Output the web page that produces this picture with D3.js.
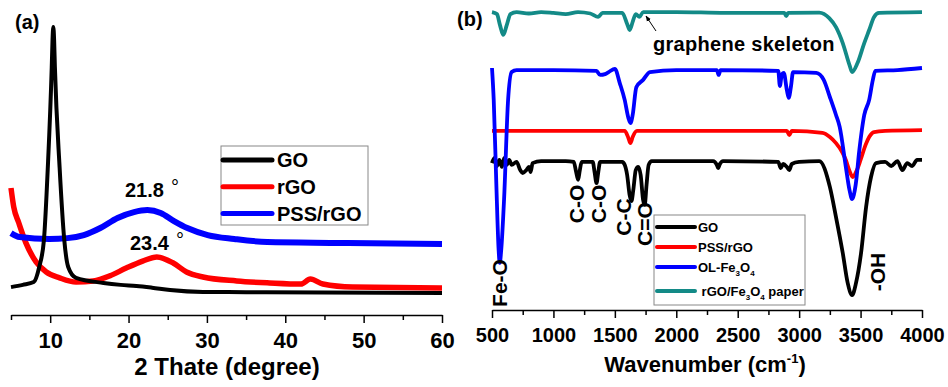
<!DOCTYPE html>
<html>
<head>
<meta charset="utf-8">
<script src="https://cdn.jsdelivr.net/npm/d3@7"></script>
<style>
  body { margin: 0; background: #fff; }
  svg { display: block; font-family: "Liberation Sans", Arial, sans-serif; font-weight: bold; }
</style>
</head>
<body>
<svg id="chart" width="948" height="387"></svg>
<script>
// ---- panel (a): XRD, [2theta, intensity a.u.] ----
const xrdGO = [[5,4.6],[6.5,5.4],[7.9,6.4],[8.6,11.8],[9.2,21.4],[9.7,47.5],[10.2,83.2],[10.3,92.9],[10.4,97.5],[10.5,92.9],[10.6,83.2],[11.2,47.5],[11.8,21.4],[12.3,11.8],[13.3,7.9],[16.8,6.1],[19,5.4],[21,5.0],[23,4.4],[25.3,3.6],[29.5,2.9],[35,2.8],[45,2.7],[60,2.5]];
const xrdRGO = [[5,40],[5.35,33.2],[6,27.5],[6.9,20.4],[8.2,13.6],[9.5,10],[11.2,7.9],[13.3,6.4],[15.5,6.8],[17.6,8.6],[19.7,11.4],[21.8,13.9],[23.6,15.4],[25.7,13.2],[27.4,10],[29.5,8.2],[33.8,6.8],[38,6.1],[42,5.7],[43.2,7.5],[44.8,5.7],[48.6,4.6],[60,4.3]];
const xrdPSS = [[5,23.9],[6.1,22.5],[9.9,21.8],[12.2,22.1],[14.3,23.2],[16.4,25.7],[18.6,29.3],[20.7,31.4],[22.4,32.1],[24.1,31.1],[25.8,28.2],[27.5,25.7],[30.1,23.2],[33.5,21.8],[37.7,20.7],[46.2,20.4],[60,20]];
const xrdTicks = [10, 20, 30, 40, 50, 60];
const xrdMinor = [5, 15, 25, 35, 45, 55];
const xrdNames = ["GO", "rGO", "PSS/rGO"];

// ---- panel (b): FTIR, [wavenumber, transmittance a.u.] ----
const ftirGO = [[500,47.2],[520,49.0],[540,46.2],[560,48.3],[580,45.9],[600,49.0],[620,46.6],[640,48.3],[660,46.6],[700,47.6],[730,44.8],[750,43.8],[780,44.8],[800,45.9],[815,44.1],[830,47.2],[900,47.9],[1100,47.9],[1165,47.6],[1185,44.1],[1201,41.4],[1215,44.8],[1230,47.6],[1320,47.6],[1335,44.1],[1351,40.3],[1365,44.1],[1380,47.6],[1560,47.6],[1580,46.6],[1600,43.1],[1620,36.2],[1635,34.1],[1650,37.9],[1670,44.8],[1690,45.9],[1710,43.1],[1730,34.5],[1743,32.8],[1758,39.7],[1775,46.6],[1800,47.9],[2300,47.9],[2330,46.6],[2340,45.5],[2355,46.9],[2380,47.9],[2830,47.6],[2850,45.5],[2870,46.9],[2900,45.9],[2920,44.8],[2940,46.9],[3000,47.6],[3164,47.9],[3250,39.0],[3300,28.6],[3355,16.2],[3395,5.9],[3431,1.7],[3463,5.9],[3504,16.2],[3545,32.1],[3585,42.4],[3626,47.2],[3700,47.6],[3750,46.2],[3800,47.9],[3840,44.8],[3880,47.2],[3920,46.2],[3960,48.3],[4000,48.3]];
const ftirPSS = [[500,58.3],[1000,58.3],[1580,58.3],[1610,55.9],[1627,54.1],[1645,56.2],[1680,58.3],[2900,58.3],[2920,56.9],[2940,58.3],[3190,57.6],[3250,56.2],[3300,54.1],[3350,51.0],[3380,48.3],[3410,44.5],[3436,42.4],[3470,44.8],[3500,48.3],[3540,53.4],[3570,56.2],[3610,57.9],[3700,58.3],[4000,58.6]];
const ftirOL = [[500,80.0],[514,69.0],[535,40.3],[554,17.2],[563,12.8],[575,17.2],[598,34.5],[631,69.0],[660,78.6],[700,79.3],[1000,79.3],[1350,79.0],[1380,77.6],[1420,77.9],[1450,78.6],[1500,79.7],[1540,74.8],[1580,69.0],[1610,62.8],[1627,61.0],[1645,63.8],[1675,73.4],[1730,75.9],[1785,78.6],[2000,79.3],[2330,79.3],[2345,77.6],[2360,79.3],[2830,79.0],[2843,73.8],[2860,77.9],[2875,78.3],[2900,72.4],[2915,69.7],[2935,74.1],[2950,78.6],[3140,78.3],[3200,75.9],[3250,70.0],[3300,63.8],[3330,59.7],[3380,45.9],[3410,37.9],[3431,34.8],[3460,39.7],[3490,51.7],[3530,63.8],[3570,69.0],[3600,75.9],[3620,79.0],[3800,79.3],[4000,80.0]];
const ftirPaper = [[500,99.3],[540,98.6],[565,94.8],[592,91.4],[620,94.8],[650,98.6],[700,99.3],[800,98.8],[900,99.3],[1000,99.0],[1100,98.6],[1200,99.3],[1300,98.8],[1364,97.6],[1400,99.0],[1560,99.0],[1600,95.2],[1621,93.1],[1645,95.9],[1670,98.6],[1700,97.6],[1730,99.3],[2000,99.3],[2400,99.0],[2880,99.0],[2895,97.9],[2910,99.0],[3164,99.1],[3245,97.2],[3300,94.1],[3355,88.6],[3410,81.0],[3431,78.6],[3475,81.7],[3530,88.6],[3570,93.1],[3610,97.6],[3650,99.0],[4000,99.3]];
const ftirTicks = [500, 1000, 1500, 2000, 2500, 3000, 3500, 4000];
const ftirMinor = [750, 1250, 1750, 2250, 2750, 3250, 3750];
const bandLabels = [["Fe-O",557,283],["C-O",1191,204],["C-O",1370,204],["C-C",1573,217],["C=O",1743,224],["-OH",3637,272]];

const svg = d3.select("#chart");
svg.append("rect").attr("width", 948).attr("height", 387).attr("fill", "#fff");

function bottomAxis(x, y0, major, minor, fontSize, pad) {
  const g = svg.append("g").attr("transform", `translate(0,${y0})`);
  g.call(d3.axisBottom(x).tickValues(major).tickSize(8).tickSizeOuter(0).tickPadding(pad).tickFormat(d3.format("d")));
  g.append("g").call(d3.axisBottom(x).tickValues(minor).tickSize(5).tickSizeOuter(0).tickFormat(""))
    .select(".domain").remove();
  g.selectAll("path, line").attr("stroke", "#000").attr("stroke-width", 1.5);
  g.selectAll("text").attr("font-size", fontSize).attr("font-weight", "bold")
    .attr("font-family", "Liberation Sans, Arial, sans-serif").attr("fill", "#000");
  return g;
}

// ---------- panel (a) ----------
const xA = d3.scaleLinear().domain([5, 60]).range([11, 442]);
const yA = d3.scaleLinear().domain([0, 100]).range([300, 20]);
const lineA = d3.line().curve(d3.curveMonotoneX).x(d => xA(d[0])).y(d => yA(d[1]));

// GO drawn last, it sits over the other two where they cross
[[xrdRGO, "#ff0000", 5.5], [xrdPSS, "#0000ff", 6], [xrdGO, "#000", 4]].forEach(([data, c, w]) => {
  svg.append("path").datum(data).attr("d", lineA)
    .attr("fill", "none").attr("stroke", c).attr("stroke-width", w).attr("stroke-linejoin", "round");
});

bottomAxis(xA, 315, xrdTicks, xrdMinor, 22, 9);
svg.append("text").attr("x", 227).attr("y", 375).attr("text-anchor", "middle")
  .attr("font-size", 24).text("2 Thate (degree)");
svg.append("text").attr("x", 15).attr("y", 29).attr("font-size", 20).text("(a)");

// peak labels
svg.append("text").attr("x", 125).attr("y", 197).attr("font-size", 20).text("21.8");
svg.append("text").attr("x", 171).attr("y", 194).attr("font-size", 20).attr("font-weight", "normal").text("°");
svg.append("text").attr("x", 130).attr("y", 250).attr("font-size", 20).text("23.4");
svg.append("text").attr("x", 176).attr("y", 247).attr("font-size", 20).attr("font-weight", "normal").text("°");

// legend (a)
const legA = svg.append("g");
legA.append("rect").attr("x", 221).attr("y", 146).attr("width", 147).attr("height", 79)
  .attr("fill", "#fff").attr("stroke", "#888").attr("stroke-width", 1);
["#000", "#ff0000", "#0000ff"].forEach((c, i) => {
  const yy = 160 + i * 26.7;
  legA.append("line").attr("x1", 223).attr("x2", 272).attr("y1", yy).attr("y2", yy)
    .attr("stroke", c).attr("stroke-width", 5).attr("stroke-linecap", "round");
  legA.append("text").attr("x", 277).attr("y", yy).attr("dy", "0.36em").attr("font-size", 20).text(xrdNames[i]);
});

// ---------- panel (b) ----------
const xB = d3.scaleLinear().domain([500, 4000]).range([492, 922]);
const yB = d3.scaleLinear().domain([0, 100]).range([300, 10]);
const lineB = d3.line().curve(d3.curveMonotoneX).x(d => xB(d[0])).y(d => yB(d[1]));
const colorsB = ["#000", "#ff0000", "#0000ff", "#138a87"];
[ftirGO, ftirPSS, ftirOL, ftirPaper].forEach((data, i) => {
  svg.append("path").datum(data).attr("d", lineB)
    .attr("fill", "none").attr("stroke", colorsB[i]).attr("stroke-width", 3.8).attr("stroke-linejoin", "round");
});

bottomAxis(xB, 310, ftirTicks, ftirMinor, 20, 10);
const tB = svg.append("text").attr("x", 705).attr("y", 372).attr("text-anchor", "middle").attr("font-size", 22);
tB.append("tspan").text("Wavenumber (cm");
tB.append("tspan").attr("font-size", 13).attr("dy", -9).text("-1");
tB.append("tspan").attr("dy", 9).text(")");
svg.append("text").attr("x", 457).attr("y", 26).attr("font-size", 20).text("(b)");

bandLabels.forEach(([t, w, yy]) => {
  svg.append("text").attr("transform", `translate(${xB(w)},${yy}) rotate(-90)`)
    .attr("text-anchor", "middle").attr("dy", "0.36em").attr("font-size", 21).text(t);
});

// graphene skeleton annotation
svg.append("defs").append("marker").attr("id", "arr").attr("viewBox", "0 0 10 10")
  .attr("refX", 9).attr("refY", 5).attr("markerWidth", 6).attr("markerHeight", 6).attr("orient", "auto")
  .append("path").attr("d", "M0,1L10,5L0,9z").attr("fill", "#000");
svg.append("line").attr("x1", 656).attr("y1", 31).attr("x2", 646).attr("y2", 16)
  .attr("stroke", "#000").attr("stroke-width", 1).attr("marker-end", "url(#arr)");
svg.append("text").attr("x", 653).attr("y", 51).attr("font-size", 20).attr("letter-spacing", 0.3).text("graphene skeleton");

// legend (b)
const legB = svg.append("g");
legB.append("rect").attr("x", 654).attr("y", 215).attr("width", 151).attr("height", 90)
  .attr("fill", "#fff").attr("stroke", "#888").attr("stroke-width", 1);
const namesB = [["GO"], ["PSS/rGO"], ["OL-Fe", "3", "O", "4"], [" rGO/Fe", "3", "O", "4", " paper"]];
const legY = [227, 247, 267, 291];
namesB.forEach((parts, i) => {
  legB.append("line").attr("x1", 657).attr("x2", 695).attr("y1", legY[i]).attr("y2", legY[i])
    .attr("stroke", colorsB[i]).attr("stroke-width", 4).attr("stroke-linecap", "round");
  const t = legB.append("text").attr("x", 698).attr("y", legY[i]).attr("dy", "0.36em")
    .attr("font-size", 13).style("white-space", "pre");
  parts.forEach((p, j) => {
    const sub = /^[34]$/.test(p);
    const prevSub = j > 0 && /^[34]$/.test(parts[j - 1]);
    const s = t.append("tspan").text(p);
    if (sub) s.attr("font-size", 8).attr("dy", 4);
    else if (prevSub) s.attr("dy", -4);
  });
});
</script>
</body>
</html>
